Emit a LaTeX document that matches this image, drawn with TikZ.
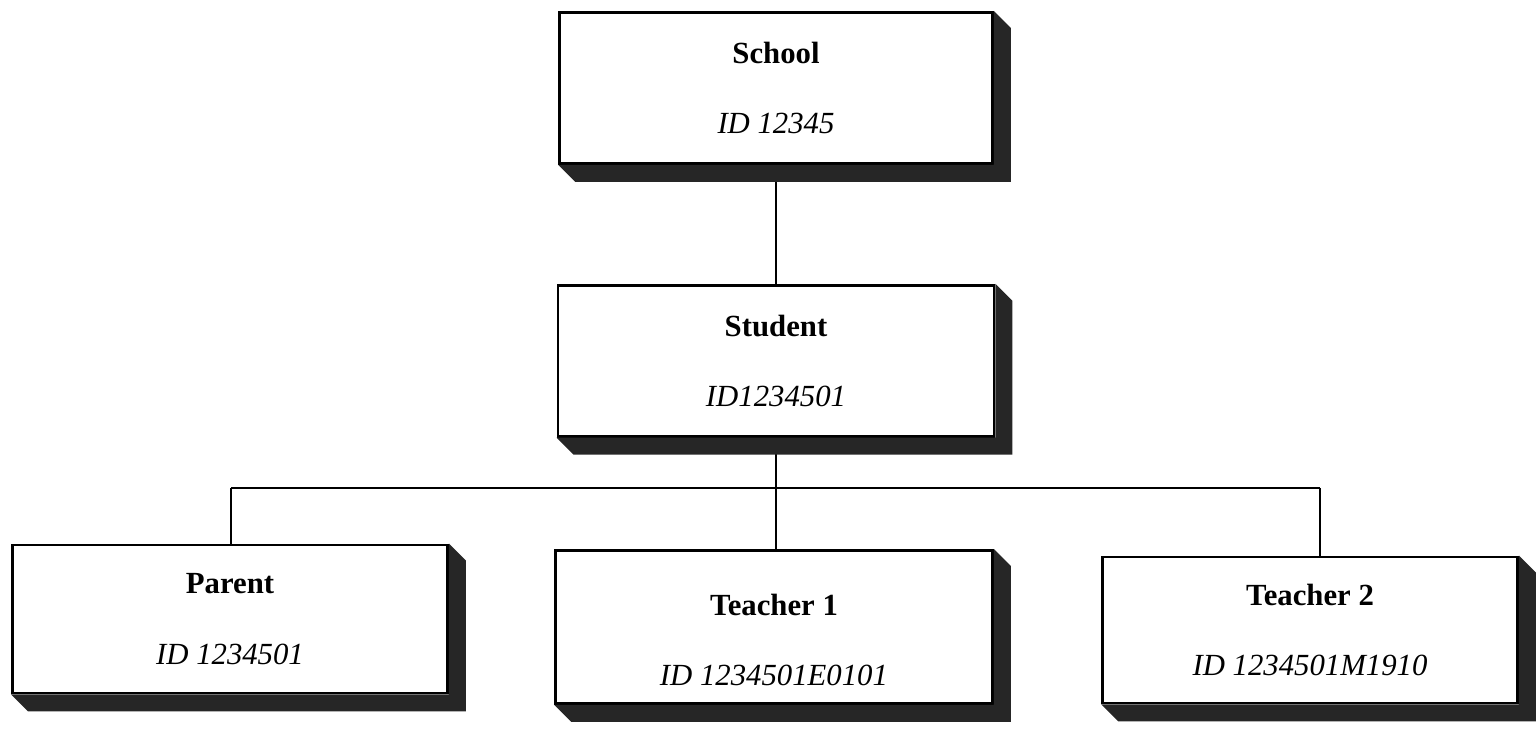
\documentclass[tikz,border=0pt]{standalone}
\usepackage{fontspec}
\setmainfont{Liberation Serif}
\usepackage{tikz}
\usetikzlibrary{calc, positioning}

\tikzset{
  idbox/.style={draw, line width=1.6pt, fill=white, align=center,
    font=\fontsize{17.5}{40}\selectfont, inner sep=0pt},
  link/.style={line width=1.1pt},
  boxshadow/.style={fill=black!85}
}

\begin{document}
\begin{tikzpicture}[x=0.02cm, y=-0.02cm]
    \useasboundingbox (0,0) rectangle (1536,729);

    % Top of the tree
    \node[idbox, minimum width=8.66cm, minimum height=3.02cm] (school) at (776,88)
        {\textbf{School}\\\textit{ID 12345}};
    \node[idbox, minimum width=8.72cm, minimum height=3.02cm, below=2.38cm of school] (student)
        {\textbf{Student}\\\textit{ID1234501}};

    % Bottom row
    \node[idbox, minimum width=8.7cm, minimum height=2.96cm] (parent) at (230,619)
        {\textbf{Parent}\\\textit{ID 1234501}};
    \node[idbox, minimum width=8.74cm, minimum height=3.06cm] (teacherA) at (774,627)
        {\rule{0pt}{27pt}\textbf{Teacher 1}\\\textit{ID 1234501E0101}};
    \node[idbox, minimum width=8.3cm, minimum height=2.92cm] (teacherB) at (1310,630)
        {\textbf{Teacher 2}\\\textit{ID 1234501M1910}};

    % Connectors
    \coordinate (bus) at (776,488);
    \coordinate (busL) at (231,488);
    \coordinate (busR) at (1320,488);
    \draw[link] (school.south) -- (student.north);
    \draw[link] (student.south) -- (bus);
    \draw[link] (busL) -- (busR);
    \draw[link] (busL) -- (busL |- parent.north);
    \draw[link] (bus) -- (bus |- teacherA.north);
    \draw[link] (busR) -- (busR |- teacherB.north);

    % 3D shadows
    \foreach \n in {school, student, parent, teacherA, teacherB} {
        \fill[boxshadow] (\n.north east) -- ++(17,17)
            -- ($(\n.south east)+(17,17)$) -- ($(\n.south west)+(17,17)$)
            -- (\n.south west) -- (\n.south east) -- cycle;
    }
\end{tikzpicture}
\end{document}
